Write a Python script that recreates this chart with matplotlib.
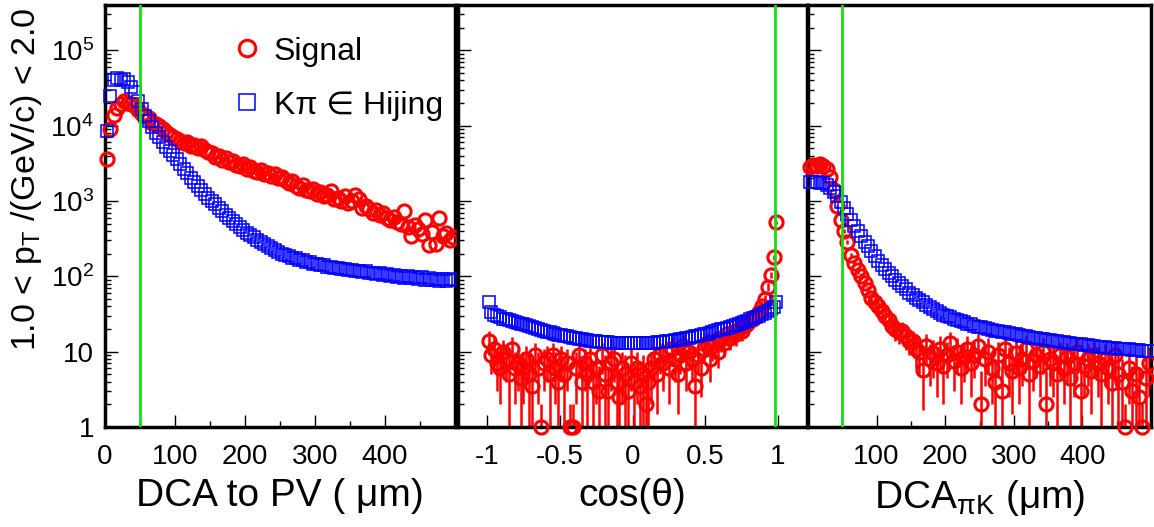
import matplotlib.pyplot as plt
import numpy as np
from matplotlib.lines import Line2D
from matplotlib.ticker import LogLocator, NullFormatter

plt.rcParams['font.family'] = ['Liberation Sans', 'DejaVu Sans']
plt.rcParams['mathtext.fontset'] = 'custom'
plt.rcParams['mathtext.rm'] = 'Liberation Sans'
plt.rcParams['mathtext.it'] = 'Liberation Sans:italic'

RED = '#ff0000'
BLUE = '#0000ff'
GREEN = '#10e010'

# bin centres
dca_pv = np.arange(2.5, 500, 5)
cos_theta = np.arange(-0.99, 1.0, 0.02)
dca_pik = np.arange(2.5, 500, 5)

# panel 1: DCA to PV
sig_pv = [3600, 9000, 14000, 17000, 19500, 21000, 20000, 19500, 18000, 16000,
          14500, 13500, 12500, 11000, 10500, 9800, 9000, 8200, 7600, 7000,
          6600, 6200, 5900, 6100, 5400, 5600, 5000, 5300, 4700, 4500,
          4300, 3800, 3900, 3500, 3700, 3300, 3400, 3000, 2900, 3100,
          2700, 2800, 2500, 2450, 2600, 2300, 2350, 2150, 2250, 2000,
          2100, 1900, 1750, 1850, 1600, 1500, 1650, 1400, 1350, 1450,
          1250, 1300, 1150, 1200, 1350, 1050, 1100, 1000, 1150, 950,
          1000, 1200, 1050, 820, 850, 780, 700, 760, 650, 690,
          600, 560, 620, 530, 490, 740, 450, 340, 480, 420,
          370, 560, 260, 390, 270, 600, 340, 380, 300, 330]
bkg_pv = [8500, 25000, 40000, 43000, 41000, 42000, 38000, 33000, 28000, 21000,
          16500, 13500, 11500, 9500, 8000, 7000, 6000, 5200, 4600, 4100,
          3600, 3100, 2700, 2350, 2050, 1800, 1600, 1400, 1250, 1100,
          1000, 900, 820, 740, 660, 600, 540, 490, 450, 410,
          380, 350, 330, 305, 285, 265, 250, 235, 222, 212,
          200, 190, 187, 175, 174, 163, 164, 155, 154, 148,
          147, 141, 141, 135, 135, 130, 131, 125, 127, 121,
          123, 118, 119, 113, 116, 110, 112, 106, 110, 104,
          107, 101, 105, 98, 102, 96, 100, 94, 98, 92,
          97, 90, 95, 89, 93, 87, 92, 88, 91, 90]

# panel 2: cos(theta)
sig_cos = [14, 9, 11, 7, 6, 10, 8, 5, 11, 6,
           7, 4.5, 6, 8, 5, 3.5, 9, 6, 1, 7,
           8, 5, 9, 6, 4, 8, 5, 7, 1, 1,
           6, 9, 4, 7, 5, 8, 4, 6, 3, 9,
           5, 3, 7, 8, 4, 2.5, 6, 5, 3, 7,
           4, 6, 3.5, 5, 2, 4, 6, 8, 5, 9,
           7, 10, 6, 11, 8, 5, 9, 12, 7, 10,
           8, 3.5, 9, 6, 11, 13, 8, 12, 14, 10,
           15, 13, 17, 15, 18, 17, 20, 19, 22, 23,
           26, 27, 30, 34, 40, 50, 72, 105, 180, 520]
err_cos = [5, 4, 4.5, 4, 4, 4.5, 4, 4, 4.5, 4,
           4, 3.5, 4, 4, 4, 3.5, 4, 4, 1, 4,
           4, 4, 4, 4, 3.5, 4, 4, 4, 1, 1,
           4, 4, 3.5, 4, 4, 4, 3.5, 4, 3.5, 4,
           4, 3.5, 4, 4, 3.5, 3, 4, 4, 3.5, 4,
           3.5, 4, 3.5, 4, 3, 3.5, 4, 4, 3.5, 4,
           4, 4, 4, 4.5, 4, 3.5, 4, 4.5, 4, 4,
           4, 3, 4, 3.5, 4, 4.5, 4, 4.5, 4.5, 4,
           5, 4.5, 5, 4.5, 5, 5, 5, 5, 5, 5,
           5.5, 5.5, 6, 6, 6.5, 7, 8.5, 10, 13, 23]
bkg_cos = [45, 34, 31, 29.5, 28.5, 27.5, 27, 26, 25.5, 24.8,
           24, 23.5, 23, 22.3, 21.6, 21, 20.4, 19.9, 19.4, 18.9,
           18.5, 18, 17.6, 17.2, 16.8, 16.5, 16.2, 15.9, 15.6, 15.3,
           15, 14.8, 14.6, 14.4, 14.2, 14, 13.9, 13.7, 13.6, 13.5,
           13.4, 13.3, 13.2, 13.1, 13.1, 13, 13, 13, 12.9, 12.9,
           12.9, 12.9, 13, 13, 13, 13.1, 13.1, 13.2, 13.3, 13.4,
           13.5, 13.7, 13.8, 14, 14.2, 14.4, 14.6, 14.9, 15.1, 15.4,
           15.7, 16, 16.3, 16.7, 17, 17.4, 17.8, 18.2, 18.7, 19.2,
           19.7, 20.2, 20.8, 21.4, 22, 22.7, 23.4, 24.2, 25, 25.9,
           26.8, 27.8, 28.9, 30, 31.3, 32.8, 34.5, 36.5, 39.5, 45]

# panel 3: DCA between pi and K
sig_pik = [2800, 3000, 2900, 3100, 2950, 2700, 2100, 1400, 850, 560,
           400, 290, 190, 150, 120, 100, 82, 66, 52, 45,
           40, 35, 30, 26, 22, 20, 18, 19, 16, 14,
           14, 11, 10, 5.7, 12, 8, 9.5, 7, 11, 6.5,
           9, 13, 7.5, 10, 6, 8.5, 11, 7, 9, 12,
           2, 8, 10, 6, 4, 9, 3, 11, 7, 5.5,
           9.5, 6, 8, 11, 5, 7.5, 9, 6.5, 10, 2,
           8, 7, 5, 9, 6, 8.5, 4.5, 7, 10, 3,
           6.5, 8, 5.5, 9, 7, 5, 8, 6, 3.8, 9,
           5, 4, 1, 6, 3, 5, 2.5, 1, 4.5, 7]
err_pik = [55, 57, 56, 58, 56, 54, 48, 39, 30, 25,
           21, 18, 15, 13, 12, 11, 10, 9, 8.5, 8,
           7.5, 7, 6.5, 6.5, 6, 6, 5.5, 6, 5.5, 5,
           5, 5, 5, 4, 5, 4.5, 5, 4.5, 5, 4.5,
           4.5, 5, 4.5, 5, 4, 4.5, 5, 4.5, 4.5, 5,
           3.5, 4.5, 5, 4, 4, 4.5, 3.5, 5, 4.5, 4,
           4.5, 4, 4.5, 5, 4, 4.5, 4.5, 4, 5, 3.5,
           4.5, 4.5, 4, 4.5, 4, 4.5, 4, 4.5, 5, 3.5,
           4, 4.5, 4, 4.5, 4.5, 4, 4.5, 4, 3.5, 4.5,
           4, 4, 1, 4, 3.5, 4, 3.5, 1, 4, 4.5]
bkg_pik = [1800, 1780, 1800, 1760, 1740, 1650, 1500, 1330, 1150, 960,
           800, 670, 560, 470, 400, 340, 290, 250, 215, 185,
           162, 142, 125, 112, 100, 90, 82, 74, 67, 61,
           57, 52, 48, 45, 42, 39, 37, 35, 33, 31,
           30, 28.5, 27.5, 26.5, 25.5, 24.5, 23.5, 23, 22, 21.5,
           21, 20.5, 20, 19.5, 19, 18.8, 18.4, 18, 17.6, 17.3,
           17, 16.6, 16.3, 16, 15.7, 15.4, 15.2, 14.9, 14.7, 14.5,
           14.2, 14, 13.8, 13.6, 13.4, 13.2, 13, 12.8, 12.7, 12.5,
           12.3, 12.2, 12, 11.9, 11.7, 11.6, 11.4, 11.3, 11.2, 11.1,
           11, 10.9, 10.8, 10.7, 10.6, 10.5, 10.4, 10.3, 10.2, 10.1]

cuts = [50, 0.98, 50]

W, H = 1154, 527
fig = plt.figure(figsize=(W / 100, H / 100), dpi=100)
top, bot = 5, 427
ax1 = fig.add_axes([105 / W, 1 - bot / H, 350 / W, (bot - top) / H])
ax2 = fig.add_axes([458 / W, 1 - bot / H, 349 / W, (bot - top) / H])
ax3 = fig.add_axes([808 / W, 1 - bot / H, 343 / W, (bot - top) / H])

circ = dict(marker='o', ms=9.5, mfc='none', mec=RED, mew=2.2, ls='none', clip_on=False, zorder=3)
sq = dict(marker='s', ms=9, mfc='none', mec=BLUE, mew=1.1, ls='none', clip_on=False, zorder=4)

panels = [(ax1, dca_pv, sig_pv, None, bkg_pv),
          (ax2, cos_theta, sig_cos, err_cos, bkg_cos),
          (ax3, dca_pik, sig_pik, err_pik, bkg_pik)]

for (ax, x, s, e, b), cut in zip(panels, cuts):
    if e is not None:
        ax.errorbar(x, s, yerr=e, fmt='none', ecolor=RED, elinewidth=1.8, zorder=2)
    ax.plot(x, s, **circ)
    ax.plot(x, b, **sq)
    ax.axvline(cut, color=GREEN, lw=2, zorder=5)
    ax.set_yscale('log')
    ax.set_ylim(1, 4e5)
    ax.yaxis.set_minor_locator(LogLocator(base=10, subs=np.arange(2, 10)))
    ax.yaxis.set_minor_formatter(NullFormatter())
    for sp in ax.spines.values():
        sp.set_linewidth(2.5)
    ax.tick_params(which='both', direction='in', top=False, right=False, width=1.0, labelsize=20)
    ax.tick_params(axis='x', pad=12)
    ax.tick_params(axis='y', pad=8)
    ax.tick_params(which='major', length=9)
    ax.tick_params(which='minor', length=4.5)

ax1.set_xlim(0, 500)
ax1.set_xticks([0, 100, 200, 300, 400])
ax1.set_xticks([50, 150, 250, 350, 450], minor=True)
ax1.set_yticks([1, 10, 100, 1e3, 1e4, 1e5])
ax1.set_yticklabels(['1', '10', r'10$^{\mathregular{2}}$', r'10$^{\mathregular{3}}$',
                     r'10$^{\mathregular{4}}$', r'10$^{\mathregular{5}}$'])
ax1.set_xlabel('DCA to PV ( μm)', fontsize=28, labelpad=6)
ax1.set_ylabel(r'1.0 < p$_{\mathregular{T}}$ /(GeV/c) < 2.0', fontsize=24.5, loc='top')
ax1.yaxis.set_label_coords(-0.175, 0.995)

ax2.set_xlim(-1.2, 1.2)
ax2.set_xticks([-1, -0.5, 0, 0.5, 1])
ax2.set_xticklabels(['-1', '-0.5', '0', '0.5', '1'])
ax2.set_xticks([], minor=True)
ax2.set_yticks([1, 10, 100, 1e3, 1e4, 1e5])
ax2.tick_params(labelleft=False)
ax2.set_xlabel('cos(θ)', fontsize=28, labelpad=6)

ax3.set_xlim(0, 500)
ax3.set_xticks([100, 200, 300, 400])
ax3.set_xticks([150, 250, 350, 450], minor=True)
ax3.set_yticks([1, 10, 100, 1e3, 1e4, 1e5])
ax3.tick_params(labelleft=False)
ax3.set_xlabel(r'DCA$_{\mathregular{πK}}$ (μm)', fontsize=28, labelpad=6)

handles = [Line2D([], [], **circ), Line2D([], [], **sq)]
ax1.legend(handles, ['Signal', 'Kπ ∈ Hijing'], loc='upper left', bbox_to_anchor=(0.36, 0.925),
           frameon=False, fontsize=23, handlelength=1.0, handletextpad=0.34, labelspacing=0.75,
           borderpad=0, borderaxespad=0, markerscale=1.25)

fig.savefig('out.png', dpi=100)
